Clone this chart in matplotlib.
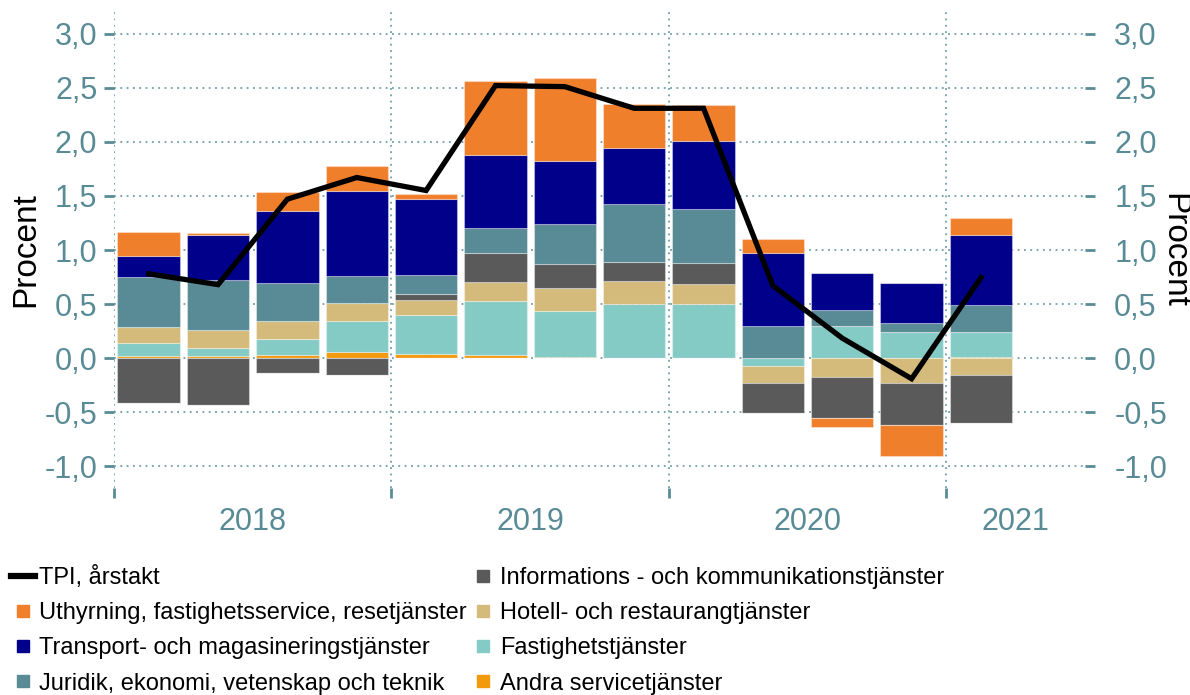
import matplotlib
matplotlib.use("Agg")
import matplotlib.pyplot as plt
from matplotlib.lines import Line2D
from matplotlib.ticker import FixedLocator, FuncFormatter
import numpy as np

plt.rcParams['font.family'] = ['Liberation Sans', 'DejaVu Sans']

quarters = ["2018K1", "2018K2", "2018K3", "2018K4", "2019K1", "2019K2", "2019K3",
            "2019K4", "2020K1", "2020K2", "2020K3", "2020K4", "2021K1"]
years = ["2018", "2019", "2020", "2021"]

andra = [0.02, 0.02, 0.03, 0.06, 0.04, 0.025, 0.015, 0.006, 0.006, 0.005, 0.0, 0.0, 0.012]
fastighet = [0.12, 0.07, 0.145, 0.28, 0.36, 0.50, 0.425, 0.495, 0.495, -0.07, 0.30, 0.24, 0.23]
hotell = [0.15, 0.175, 0.17, 0.17, 0.14, 0.175, 0.21, 0.21, 0.185, -0.155, -0.17, -0.225, -0.157]
info = [-0.41, -0.43, -0.14, -0.16, 0.05, 0.27, 0.225, 0.18, 0.19, -0.28, -0.38, -0.39, -0.44]
juridik = [0.46, 0.46, 0.35, 0.25, 0.18, 0.23, 0.365, 0.53, 0.50, 0.29, 0.15, 0.086, 0.25]
transport = [0.19, 0.41, 0.67, 0.79, 0.70, 0.68, 0.58, 0.52, 0.63, 0.68, 0.34, 0.37, 0.65]
uthyrning = [0.23, 0.02, 0.17, 0.23, 0.05, 0.68, 0.77, 0.41, 0.33, 0.126, -0.086, -0.29, 0.157]
tpi = [0.78, 0.68, 1.47, 1.67, 1.55, 2.52, 2.51, 2.31, 2.31, 0.67, 0.185, -0.19, 0.745]

series = [
    ("Andra servicetjänster", andra, "#F39A0C"),
    ("Fastighetstjänster", fastighet, "#85CBC5"),
    ("Hotell- och restaurangtjänster", hotell, "#D5BB7B"),
    ("Informations - och kommunikationstjänster", info, "#5A5A5A"),
    ("Juridik, ekonomi, vetenskap och teknik", juridik, "#588B95"),
    ("Transport- och magasineringstjänster", transport, "#00008B"),
    ("Uthyrning, fastighetsservice, resetjänster", uthyrning, "#F07F2C"),
]

tick_col = "#588B95"
grid_col = "#6E9EA7"

fig = plt.figure(figsize=(11.9, 6.95), dpi=100)
ax = fig.add_axes([114/1190, 1-488/695, (1085-114)/1190, (488-12)/695])

x = np.arange(len(quarters))
pos_bottom = np.zeros(len(x))
neg_bottom = np.zeros(len(x))
colors = {}
for name, vals, col in series:
    v = np.array(vals, dtype=float)
    pos = np.where(v > 0, v, 0)
    neg = np.where(v < 0, v, 0)
    ax.bar(x, pos, 0.9, bottom=pos_bottom, color=col, edgecolor=(1, 1, 1, 0.35), linewidth=0.8, zorder=2)
    ax.bar(x, neg, 0.9, bottom=neg_bottom, color=col, edgecolor=(1, 1, 1, 0.35), linewidth=0.8, zorder=2)
    pos_bottom += pos
    neg_bottom += neg
    colors[name] = col

ax.plot(x, tpi, color="black", lw=3.8, zorder=4, solid_joinstyle='miter')

ax.set_xlim(-0.5, 13.5)
ax.set_ylim(-1.2, 3.2)

yt = np.arange(-1.0, 3.01, 0.5)
fmt = FuncFormatter(lambda v, p: ("%.1f" % v).replace(".", ","))
ax.yaxis.set_major_locator(FixedLocator(yt))
ax.yaxis.set_major_formatter(fmt)
ax.xaxis.set_major_locator(FixedLocator([1.5, 5.5, 9.5, 12.5]))
ax.set_xticklabels(years)
ax.xaxis.set_minor_locator(FixedLocator([-0.5, 3.5, 7.5, 11.5]))

for s in ax.spines.values():
    s.set_visible(False)

ax.grid(axis='y', which='major', color=grid_col, linestyle=(0, (1, 2.5)), linewidth=1.3, zorder=0)
ax.grid(axis='x', which='minor', color=grid_col, linestyle=(0, (1, 2.5)), linewidth=1.3, zorder=0)
ax.grid(axis='x', which='major', visible=False)
ax.set_axisbelow(True)

ax.tick_params(axis='x', which='major', length=0, pad=14, labelsize=22, labelcolor=tick_col)
ax.tick_params(axis='x', which='minor', length=7, width=2, color=tick_col, direction='out')
ax.tick_params(axis='y', which='major', length=7, width=2, color=tick_col, pad=5,
               labelsize=22, labelcolor=tick_col)

ax2 = ax.twinx()
ax2.set_ylim(ax.get_ylim())
ax2.yaxis.set_major_locator(FixedLocator(yt))
ax2.yaxis.set_major_formatter(fmt)
for s in ax2.spines.values():
    s.set_visible(False)
ax2.tick_params(axis='y', which='major', length=7, width=2, color=tick_col, pad=14,
                labelsize=22, labelcolor=tick_col)

fig.text(26/1190, 1-250/695, "Procent", fontsize=24, rotation=90, ha='center', va='center')
fig.text(1174/1190, 1-250/695, "Procent", fontsize=24, rotation=270, ha='center', va='center')

handles = [Line2D([0], [0], color="black", lw=4.5)]
labels = ["TPI, årstakt"]
order = ["Uthyrning, fastighetsservice, resetjänster", "Transport- och magasineringstjänster",
         "Juridik, ekonomi, vetenskap och teknik", "Informations - och kommunikationstjänster",
         "Hotell- och restaurangtjänster", "Fastighetstjänster", "Andra servicetjänster"]
for n in order:
    handles.append(Line2D([0], [0], linestyle='none', marker='s', markersize=8,
                          markerfacecolor=colors[n], markeredgecolor=colors[n]))
    labels.append(n)

fig.legend(handles, labels, ncol=2, loc='upper left', bbox_to_anchor=(11/1190, 1-566/695),
           frameon=False, fontsize=17, handlelength=1.0, handletextpad=0.2,
           columnspacing=0.2, labelspacing=0.56, borderpad=0, borderaxespad=0)

fig.savefig("out.png", dpi=100)
